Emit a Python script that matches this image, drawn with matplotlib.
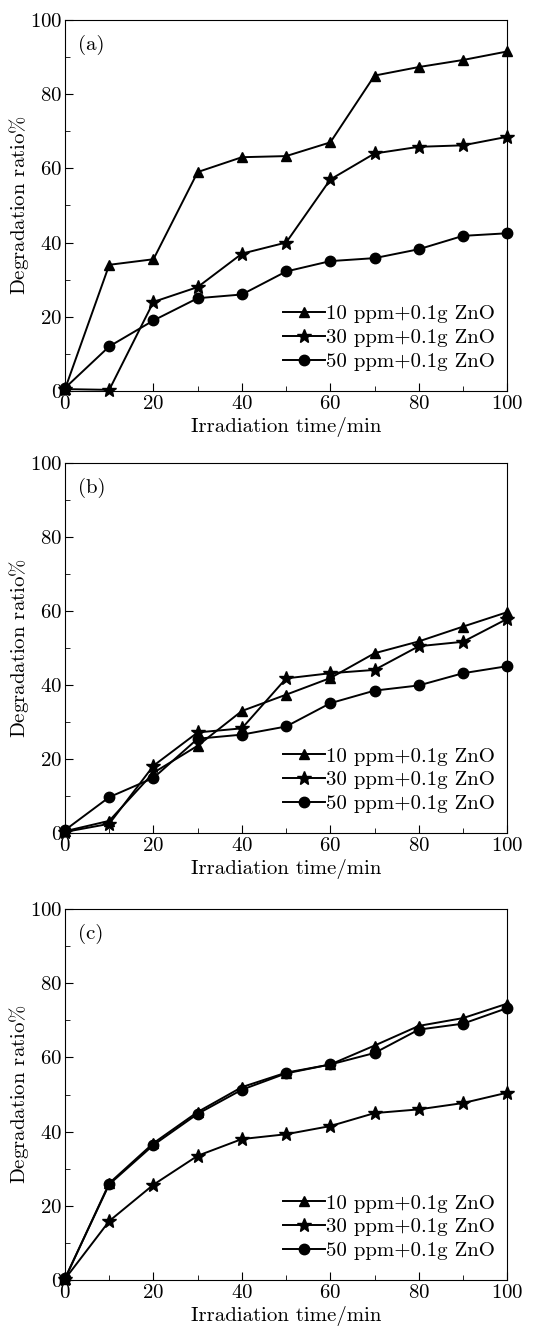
import matplotlib
matplotlib.use("Agg")
import matplotlib.pyplot as plt
from matplotlib.ticker import MultipleLocator

plt.rcParams['font.family'] = ['cmr10', 'DejaVu Serif']
plt.rcParams['axes.formatter.use_mathtext'] = True
plt.rcParams['mathtext.fontset'] = 'cm'

time = [0, 10, 20, 30, 40, 50, 60, 70, 80, 90, 100]
labels = ["10 ppm+0.1g ZnO", "30 ppm+0.1g ZnO", "50 ppm+0.1g ZnO"]
panel_names = ["(a)", "(b)", "(c)"]

# panel (a)
a_10 = [0.5, 34, 35.5, 59, 63, 63.3, 67, 85, 87.3, 89.2, 91.5]
a_30 = [0.5, 0.3, 24, 28, 37, 40, 57, 64, 65.8, 66.2, 68.5]
a_50 = [0.8, 12, 19, 25, 26, 32.2, 35, 35.8, 38.2, 41.8, 42.5]

# panel (b)
b_10 = [0.5, 3.3, 16.3, 23.6, 33, 37.4, 41.9, 48.6, 51.8, 55.8, 59.7]
b_30 = [0.3, 2.5, 18.2, 27.2, 28.3, 41.8, 43.2, 44.1, 50.5, 51.7, 57.9]
b_50 = [0.8, 9.7, 14.9, 25.5, 26.6, 28.8, 35.1, 38.5, 39.9, 43.2, 45.1]

# panel (c)
c_10 = [0.3, 26.1, 36.9, 45.3, 52, 55.9, 58.1, 63.2, 68.5, 70.6, 74.5]
c_30 = [0.3, 15.9, 25.7, 33.5, 38, 39.3, 41.5, 45, 46, 47.7, 50.5]
c_50 = [0.5, 25.8, 36.4, 44.8, 51.3, 55.7, 58.1, 61.2, 67.5, 69.1, 73.3]

panels = [(a_10, a_30, a_50), (b_10, b_30, b_50), (c_10, c_30, c_50)]
markers = ["^", "*", "o"]
sizes = [7.5, 10, 7.5]

fig = plt.figure(figsize=(5.36, 13.28), dpi=100)
boxes = [[0.1213, 0.7056, 0.825, 0.2794],
         [0.1213, 0.3727, 0.825, 0.2786],
         [0.1213, 0.0361, 0.825, 0.2794]]

fs = 15
for box, series, name in zip(boxes, panels, panel_names):
    ax = fig.add_axes(box)
    for ys, m, ms, lab in zip(series, markers, sizes, labels):
        ax.plot(time, ys, color='black', marker=m, markersize=ms, linewidth=1.4,
                label=lab, clip_on=False, zorder=3)
    ax.set_xlim(0, 100)
    ax.set_ylim(0, 100)
    ax.xaxis.set_major_locator(MultipleLocator(20))
    ax.xaxis.set_minor_locator(MultipleLocator(10))
    ax.yaxis.set_major_locator(MultipleLocator(20))
    ax.yaxis.set_minor_locator(MultipleLocator(10))
    ax.tick_params(which='both', direction='in', labelsize=fs)
    ax.tick_params(axis='x', pad=3)
    ax.tick_params(axis='y', pad=2)
    ax.tick_params(which='major', length=6)
    ax.tick_params(which='minor', length=3.5)
    ax.set_xlabel("Irradiation time/min", fontsize=fs, labelpad=3)
    ax.set_ylabel(r"Degradation ratio$\%$", fontsize=fs, labelpad=-1)
    ax.text(0.03, 0.96, name, transform=ax.transAxes, fontsize=fs, va='top', ha='left')
    ax.legend(loc='lower right', frameon=False, fontsize=fs, handlelength=2.0,
              handletextpad=0.05, labelspacing=0.25, borderaxespad=0.2,
              bbox_to_anchor=(1.0, 0.02))

fig.savefig("out.png", dpi=100)
